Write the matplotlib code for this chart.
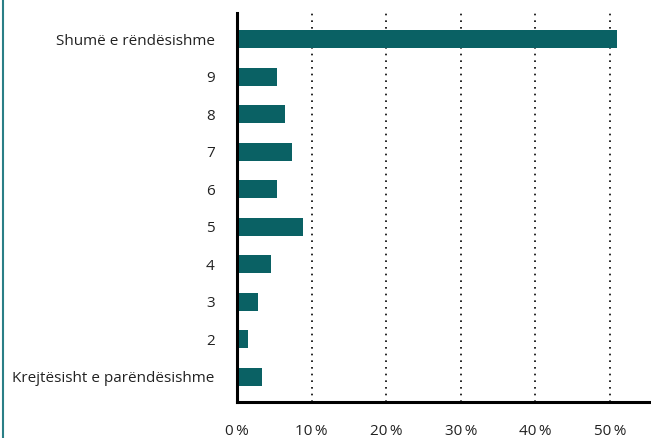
import matplotlib.pyplot as plt
from matplotlib.lines import Line2D

categories = ["Krejtësisht e parëndësishme", "2", "3", "4", "5", "6", "7", "8", "9",
              "Shumë e rëndësishme"]
values = [3.3, 1.5, 2.8, 4.5, 8.9, 5.4, 7.4, 6.5, 5.4, 50.9]
xticks = [0, 10, 20, 30, 40, 50]
xtick_labels = ["0\u2009%", "10\u2009%", "20\u2009%", "30\u2009%", "40\u2009%", "50\u2009%"]

plt.rcParams['font.family'] = ['Open Sans', 'DejaVu Sans']

fig = plt.figure(figsize=(6.51, 4.38), dpi=100)
ax = fig.add_axes([237/651, 36/438, 1 - 237/651, (402-13)/438])

ypos = list(range(len(categories)))
ax.barh(ypos, values, height=0.48, color="#0a6164", zorder=2)

ax.set_xlim(0, 55.5)
ax.set_ylim(-0.67, 9.7)
ax.set_yticks(ypos)
ax.set_yticklabels(categories, fontsize=11, color="#222222")
ax.set_xticks(xticks)
ax.set_xticklabels(xtick_labels, fontsize=11, color="#222222")
ax.tick_params(axis="both", length=0)
ax.tick_params(axis="y", pad=16)
ax.tick_params(axis="x", pad=15.5)

for x in xticks[1:]:
    ax.axvline(x, color="black", linestyle=(0, (1, 3)), linewidth=1.2, zorder=1)

ax.spines["top"].set_visible(False)
ax.spines["right"].set_visible(False)
ax.spines["left"].set_linewidth(2.2)
ax.spines["bottom"].set_linewidth(2.2)

# teal frame line on the left edge
fig.add_artist(Line2D([2.5/651, 2.5/651], [0, 1], color="#2a7f86", linewidth=1.5,
                      transform=fig.transFigure))

fig.savefig("out.png", dpi=100)
